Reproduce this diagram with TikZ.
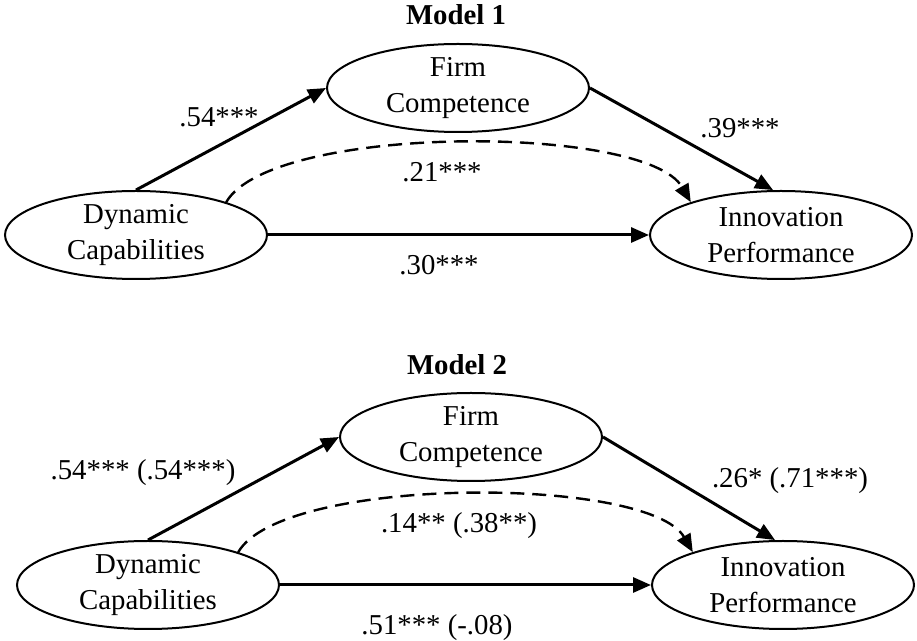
\documentclass[tikz,border=0pt]{standalone}
\usepackage{fontspec}
\setmainfont{Liberation Serif}
\usepackage{tikz}
\usetikzlibrary{shapes}
\usetikzlibrary{arrows.meta}
\usetikzlibrary{positioning}
\tikzstyle{latent}=[ellipse,draw,line width=1pt,inner sep=0pt,
        minimum width=131pt,minimum height=44pt,align=center]
\tikzstyle{coef}=[anchor=base,inner sep=0pt]
\tikzstyle{titre}=[anchor=base,inner sep=0pt,
        font=\fontsize{14.4}{17.5}\selectfont\bfseries]
\tikzstyle{lien}=[-{Triangle[length=9pt,width=7.5pt]},line width=1.5pt]
\tikzstyle{indirect}=[lien,line width=1.2pt,dash pattern=on 7pt off 4pt]

\begin{document}
\begin{tikzpicture}[x=0.5pt,y=0.5pt,font=\fontsize{14.4}{18}\selectfont]
\useasboundingbox (0,0) rectangle (917,-641);
%Model 1
\node[titre] (t1) at (456,-25) {Model 1};
\node[latent] (fc1) at (458,-88) {Firm\\Competence};
\node[latent] (dc1) at (136,-235) {Dynamic\\Capabilities};
\node[latent] (ip1) at (781,-235) {Innovation\\Performance};
\node[coef] (a1) at (219,-127) {.54***};
\node[coef] (b1) at (740,-138) {.39***};
\node[coef] (c1) at (442,-182) {.21***};
\node[coef] (d1) at (439,-275) {.30***};
%Model 2
\node[titre] (t2) at (457,-375) {Model 2};
\node[latent] (fc2) at (471,-437) {Firm\\Competence};
\node[latent] (dc2) at (148,-585) {Dynamic\\Capabilities};
\node[latent] (ip2) at (783,-585) {Innovation\\Performance};
\node[coef] (a2) at (143,-480) {.54*** (.54***)};
\node[coef] (b2) at (790,-488) {.26* (.71***)};
\node[coef] (c2) at (459,-533) {.14** (.38**)};
\node[coef] (d2) at (437,-635) {.51*** (-.08)};
%Drawing Edges
\draw[lien] (dc1.north) -- (fc1.west);
\draw[lien] (fc1.east) -- (ip1.100);
\draw[lien] (dc1.east) -- (ip1.west);
\draw[indirect] (dc1.20) to[out=60,in=120,looseness=0.5] (ip1.160);
\draw[lien] (dc2.north) -- (fc2.west);
\draw[lien] (fc2.east) -- (ip2.100);
\draw[lien] (dc2.east) -- (ip2.west);
\draw[indirect] (dc2.20) to[out=60,in=120,looseness=0.5] (ip2.160);
\end{tikzpicture}
\end{document}
